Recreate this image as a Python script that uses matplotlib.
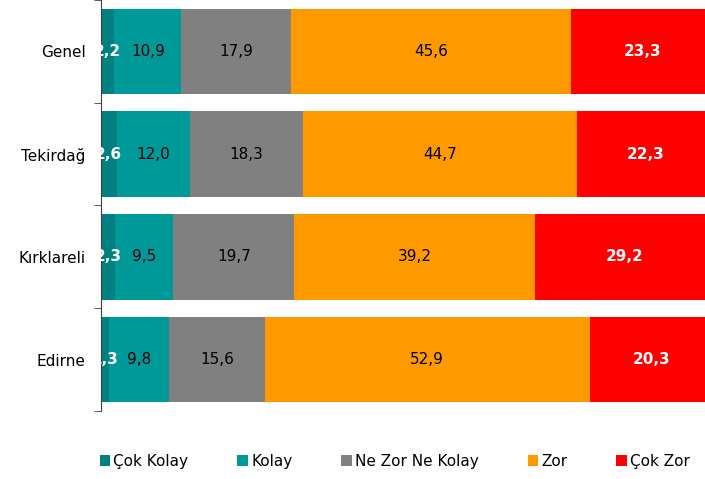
import matplotlib.pyplot as plt
import numpy as np

# Veriler
bolgeler = ["Genel", "Tekirdağ", "Kırklareli", "Edirne"]
seriler = ["Çok Kolay", "Kolay", "Ne Zor Ne Kolay", "Zor", "Çok Zor"]
cok_kolay = [2.2, 2.6, 2.3, 1.3]
kolay = [10.9, 12.0, 9.5, 9.8]
ne_zor_ne_kolay = [17.9, 18.3, 19.7, 15.6]
zor = [45.6, 44.7, 39.2, 52.9]
cok_zor = [23.3, 22.3, 29.2, 20.3]

renkler = ["#008080", "#009999", "#808080", "#FF9900", "#FF0000"]
yazi_renk = ["white", "black", "black", "black", "white"]
yazi_kalin = ["bold", "normal", "normal", "normal", "bold"]

degerler = [cok_kolay, kolay, ne_zor_ne_kolay, zor, cok_zor]

fig = plt.figure(figsize=(7.05, 4.79), dpi=100)
ax = fig.add_axes([0.143, 0.142, 0.871, 0.858])

y = np.arange(len(bolgeler))
sol = np.zeros(len(bolgeler))
for i, seri in enumerate(seriler):
    v = np.array(degerler[i])
    ax.barh(y, v, left=sol, height=0.83, color=renkler[i], label=seri)
    for j in range(len(bolgeler)):
        ax.text(sol[j] + v[j] / 2, y[j], f"{v[j]:.1f}".replace(".", ","),
                ha="center", va="center", fontsize=11, color=yazi_renk[i],
                fontweight=yazi_kalin[i], clip_on=True)
    sol += v

ax.set_xlim(0, 100)
ax.set_ylim(3.5, -0.5)
ax.set_yticks(y)
ax.set_yticklabels(bolgeler, fontsize=11)
ax.set_yticks(np.arange(-0.5, 4, 1), minor=True)
ax.tick_params(axis="y", which="major", length=0, pad=11)
ax.tick_params(axis="y", which="minor", length=5, color="#404040")
ax.set_xticks([])
for s in ["top", "right", "bottom"]:
    ax.spines[s].set_visible(False)
ax.spines["left"].set_color("#404040")

fig.legend(loc="lower center", bbox_to_anchor=(0.56, -0.008), ncol=5,
           frameon=False, fontsize=11, handlelength=0.7, handleheight=0.7,
           handletextpad=0.2, columnspacing=3.2)

plt.savefig("out.png", dpi=100)
